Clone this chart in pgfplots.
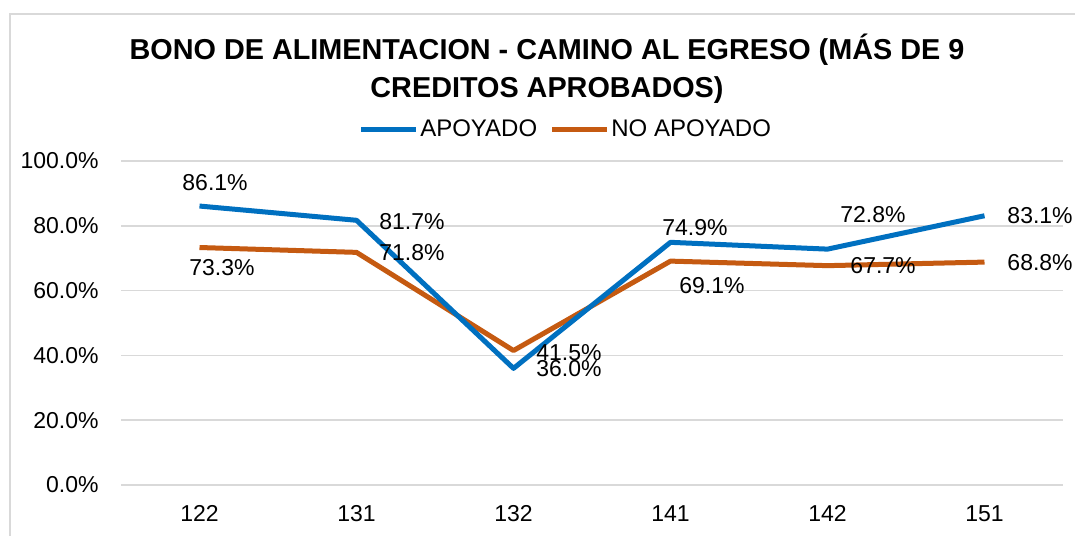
\documentclass[border=0pt]{standalone}
\usepackage{pgfplots}
\pgfplotsset{compat=1.18}
\usepackage{fontspec}
\setmainfont{Liberation Sans}
\definecolor{cblue}{HTML}{0070C0}
\definecolor{corange}{HTML}{C55A11}
\definecolor{cgrid}{HTML}{D9D9D9}
\begin{document}
\begin{tikzpicture}
\useasboundingbox (0,0) rectangle (537.5pt,-267.5pt);
\clip (0,0) rectangle (537.5pt,-267.5pt);
\fill[white] (0,0) rectangle (537.5pt,-267.5pt);
\draw[cgrid, line width=0.8pt] (5pt,-7pt) rectangle (560pt,-290pt);
\node[font=\fontsize{14.4}{19}\selectfont\bfseries, align=center] at (273.5pt,-34.5pt)
  {BONO DE ALIMENTACION - CAMINO AL EGRESO (MÁS DE 9\\CREDITOS APROBADOS)};
\begin{axis}[
  at={(60.5pt,-242.5pt)}, anchor=south west,
  scale only axis, width=471pt, height=162pt,
  xmin=-0.5, xmax=5.5, ymin=0, ymax=100,
  axis line style={draw=none},
  xtick={0,1,2,3,4,5},
  xticklabels={122,131,132,141,142,151},
  ytick={0,20,40,60,80,100},
  yticklabels={0.0\%,20.0\%,40.0\%,60.0\%,80.0\%,100.0\%},
  major tick length=0pt,
  ymajorgrids, grid style={cgrid, line width=0.8pt},
  tick label style={font=\fontsize{11.5}{13}\selectfont, text=black},
  yticklabel style={inner sep=0pt, xshift=-11pt},
  xticklabel style={inner sep=0pt, yshift=-10pt},
  legend columns=2,
  legend style={at={(0.472,1.096)}, anchor=center, draw=none, fill=none,
    font=\fontsize{12}{14}\selectfont, inner sep=0pt, nodes={inner sep=0.8pt},
    /tikz/every even column/.append style={column sep=5.5pt}},
  legend image code/.code={\draw[#1] (0pt,0pt) -- (27.5pt,0pt);},
  clip=false,
]
\addplot[corange, line width=2.5pt, line join=round, forget plot] coordinates {(0,73.3) (1,71.8) (2,41.5) (3,69.1) (4,67.7) (5,68.8)};
\addplot[cblue, line width=2.5pt, line join=round] coordinates {(0,86.1) (1,81.7) (2,36.0) (3,74.9) (4,72.8) (5,83.1)};
\addlegendentry{APOYADO}
\addlegendimage{corange, line width=2.5pt}
\addlegendentry{NO APOYADO}
\begin{scope}[every node/.style={font=\fontsize{11.5}{13}\selectfont, inner sep=0pt}]
\node at (axis cs:0.099,93.2) {86.1\%};
\node at (axis cs:0.143,67.0) {73.3\%};
\node at (axis cs:1.353,81.2) {81.7\%};
\node at (axis cs:1.353,71.6) {71.8\%};
\node at (axis cs:2.353,41.0) {41.5\%};
\node at (axis cs:2.353,35.8) {36.0\%};
\node at (axis cs:3.156,79.3) {74.9\%};
\node at (axis cs:3.264,61.7) {69.1\%};
\node at (axis cs:4.290,83.6) {72.8\%};
\node at (axis cs:4.354,67.6) {67.7\%};
\node at (axis cs:5.354,83.0) {83.1\%};
\node at (axis cs:5.354,68.5) {68.8\%};
\end{scope}
\end{axis}
\end{tikzpicture}
\end{document}
